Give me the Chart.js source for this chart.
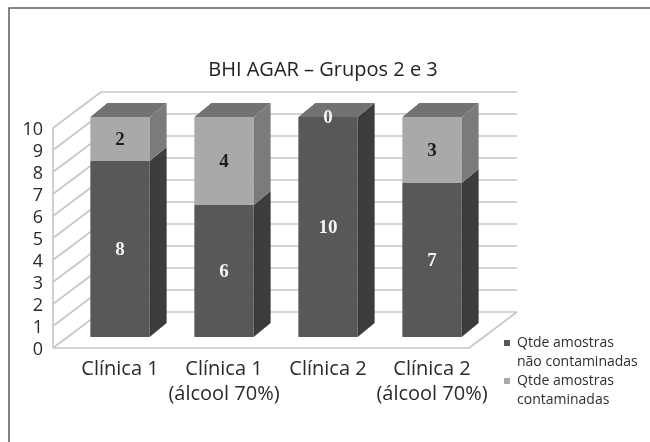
<!DOCTYPE html>
<html>
<head>
<meta charset="utf-8">
<script src="https://cdn.jsdelivr.net/npm/chart.js@4/dist/chart.umd.min.js"></script>
<style>
  html, body { margin: 0; padding: 0; background: #fff; }
  #wrap { width: 650px; height: 442px; position: relative; }
</style>
</head>
<body>
<div id="wrap"><canvas id="c" width="650" height="442"></canvas></div>
<script>
// ---- data ----
const chartTitle = 'BHI AGAR – Grupos 2 e 3';
const categories = [['Clínica 1'], ['Clínica 1', '(álcool 70%)'], ['Clínica 2'], ['Clínica 2', '(álcool 70%)']];
const seriesLabels = [['Qtde amostras', 'não contaminadas'], ['Qtde amostras', 'contaminadas']];
const naoContaminadas = [8, 6, 10, 7];
const contaminadas = [2, 4, 0, 3];
const yMin = 0, yMax = 10, yStep = 1;

// ---- styling ----
const FONT = '"Open Sans", Lato, sans-serif';
// colours of each series' box faces
const faces = [
  { front: '#585858', side: '#3c3c3c', top: '#686868', text: '#f4f4f4' },
  { front: '#a9a9a9', side: '#7b7b7b', top: '#727272', text: '#1e1e1e' }
];
// depth offsets (pixels) relative to the plane of the bar fronts
const FRONT_WALL = { dx: -15, dy: 11 };
const BACK_WALL = { dx: 33, dy: -25 };
const BAR_DEPTH = { dx: 17, dy: -14 };

function line(ctx, x1, y1, x2, y2) {
  ctx.beginPath(); ctx.moveTo(x1, y1); ctx.lineTo(x2, y2); ctx.stroke();
}
function poly(ctx, pts, fill) {
  ctx.beginPath();
  ctx.moveTo(pts[0][0], pts[0][1]);
  for (let k = 1; k < pts.length; k++) ctx.lineTo(pts[k][0], pts[k][1]);
  ctx.closePath();
  ctx.fillStyle = fill;
  ctx.fill();
}

// Pseudo-3D box: walls, floor, bar sides/tops, value labels and legend
const box3d = {
  id: 'box3d',
  beforeDraw(chart) {
    const ctx = chart.ctx;
    ctx.save();
    ctx.strokeStyle = '#5c5c5c';
    ctx.lineWidth = 1.5;
    ctx.beginPath();
    ctx.moveTo(9, chart.height);
    ctx.lineTo(9, 8);
    ctx.lineTo(chart.width, 8);
    ctx.stroke();
    ctx.restore();
  },
  beforeDatasetsDraw(chart) {
    const { ctx, chartArea: a, scales: { y } } = chart;
    const F = FRONT_WALL, B = BACK_WALL;
    ctx.save();
    ctx.strokeStyle = '#c6c6c6';
    ctx.lineWidth = 1.6;
    y.ticks.forEach(t => {
      const py = y.getPixelForValue(t.value);
      line(ctx, a.left + B.dx, py + B.dy, a.right + B.dx, py + B.dy);   // back wall
      line(ctx, a.left + F.dx, py + F.dy, a.left + B.dx, py + B.dy);    // side wall
    });
    const p0 = y.getPixelForValue(yMin), p1 = y.getPixelForValue(yMax);
    line(ctx, a.left + F.dx, p0 + F.dy, a.left + F.dx, p1 + F.dy);        // side wall front edge
    line(ctx, a.left + F.dx, p0 + F.dy, a.right + F.dx, p0 + F.dy);       // floor front edge
    line(ctx, a.right + F.dx, p0 + F.dy, a.right + B.dx, p0 + B.dy);      // floor right edge
    ctx.restore();
  },
  afterDatasetsDraw(chart) {
    const ctx = chart.ctx;
    const D = BAR_DEPTH;
    const n = chart.data.datasets.length;
    const boxes = [];
    ctx.save();
    chart.data.datasets.forEach((ds, i) => {
      const meta = chart.getDatasetMeta(i);
      meta.data.forEach((bar, j) => {
        const p = bar.getProps(['x', 'y', 'base', 'width'], true);
        const L = p.x - p.width / 2, R = p.x + p.width / 2;
        const T = Math.min(p.y, p.base), Bt = Math.max(p.y, p.base);
        poly(ctx, [[R, T], [R + D.dx, T + D.dy], [R + D.dx, Bt + D.dy], [R, Bt]], faces[i].side);
        if (i === n - 1) {
          poly(ctx, [[L, T], [L + D.dx, T + D.dy], [R + D.dx, T + D.dy], [R, T]], faces[i].top);
        }
        boxes.push({ i, j, x: p.x, cy: (T + Bt) / 2, v: ds.data[j] });
      });
    });
    ctx.font = 'bold 19px "Liberation Serif", "Times New Roman", serif';
    ctx.textAlign = 'center';
    ctx.textBaseline = 'middle';
    boxes.forEach(b => {
      const col = (b.v === 0 && b.i > 0) ? faces[b.i - 1].text : faces[b.i].text;
      ctx.fillStyle = col;
      ctx.fillText(String(b.v), b.x, b.cy + 1);
    });
    ctx.restore();
  },
  afterDraw(chart) {
    const ctx = chart.ctx;
    ctx.save();
    ctx.font = '14px ' + FONT;
    ctx.textBaseline = 'middle';
    ctx.textAlign = 'left';
    const x0 = 504, tx = 517, lh = 19;
    let yy = 343;
    chart.data.datasets.forEach((ds, i) => {
      ctx.fillStyle = faces[i].front;
      ctx.fillRect(x0, yy - 3, 6, 6);
      ctx.fillStyle = '#2e2e2e';
      ds.label.forEach((txt, k) => ctx.fillText(txt, tx, yy + k * lh));
      yy += ds.label.length * lh;
    });
    ctx.restore();
  }
};

new Chart(document.getElementById('c'), {
  type: 'bar',
  data: {
    labels: categories,
    datasets: [
      { label: seriesLabels[0], data: naoContaminadas, backgroundColor: faces[0].front },
      { label: seriesLabels[1], data: contaminadas, backgroundColor: faces[1].front }
    ]
  },
  options: {
    responsive: false,
    animation: false,
    layout: { padding: { top: 50, left: 20, right: 24, bottom: 5 } },
    datasets: { bar: { categoryPercentage: 1, barPercentage: 0.57 } },
    plugins: {
      legend: { display: false },
      tooltip: { enabled: false },
      title: {
        display: true,
        text: chartTitle,
        color: '#222',
        font: { family: FONT, size: 20, weight: 'normal', lineHeight: 1.2 },
        padding: { top: 8, bottom: 35 }
      }
    },
    scales: {
      x: {
        stacked: true,
        grid: { display: false, drawTicks: false },
        border: { display: false },
        ticks: {
          color: '#2a2a2a',
          font: { family: FONT, size: 20, lineHeight: 1.25 },
          padding: 20,
          maxRotation: 0,
          autoSkip: false
        },
        afterFit: s => { s.height = 100; }
      },
      y: {
        stacked: true,
        min: yMin,
        max: yMax,
        grid: { display: false, drawTicks: false },
        border: { display: false },
        ticks: {
          stepSize: yStep,
          autoSkip: false,
          color: '#2a2a2a',
          font: { family: FONT, size: 18 },
          padding: 25,
          labelOffset: 13
        },
        afterFit: s => { s.width = 48; }
      },
      // empty band on the right that holds the legend
      legendBand: {
        position: 'right',
        display: true,
        grid: { display: false, drawTicks: false },
        border: { display: false },
        ticks: { display: false },
        afterFit: s => { s.width = 142; }
      }
    }
  },
  plugins: [box3d]
});
</script>
</body>
</html>
